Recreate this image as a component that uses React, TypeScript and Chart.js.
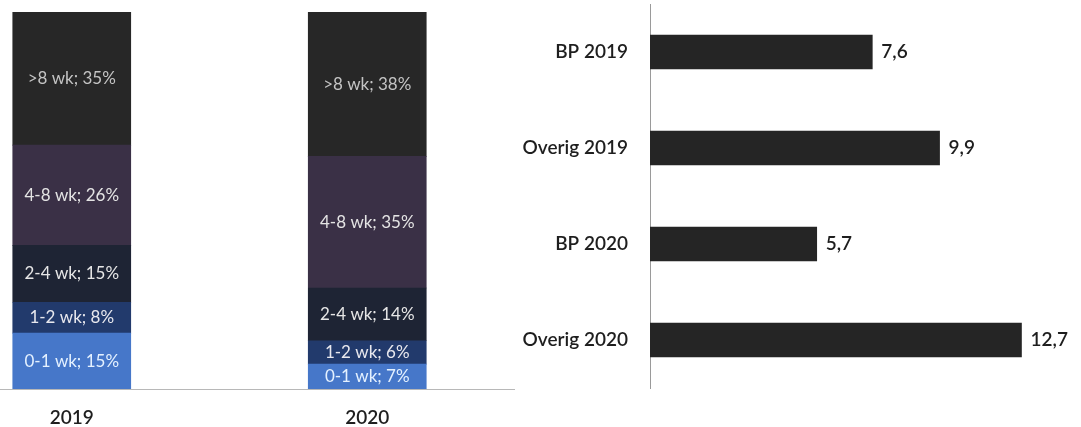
import React, { useEffect, useRef } from "react";
import { Chart, registerables } from "chart.js";

Chart.register(...registerables);

// Left chart: distribution of durations (share of cases, %)
const years = ["2019", "2020"];
const segmentNames = ["0-1 wk", "1-2 wk", "2-4 wk", "4-8 wk", ">8 wk"];
const shares2019 = [14.8, 8.2, 15.1, 26.6, 35.3];
const shares2020 = [6.6, 6.2, 14.0, 34.9, 38.3];
const printed2019 = [15, 8, 15, 26, 35];
const printed2020 = [7, 6, 14, 35, 38];
const segmentColors = ["#4677c9", "#223a6c", "#1e2434", "#3a3046", "#272727"];
const segmentTextColors = ["#e4f1ff", "#e8e8ee", "#e6e6e6", "#e4e4e4", "#c4c4c4"];

// Right chart: average duration (weeks)
const groups = ["BP 2019", "Overig 2019", "BP 2020", "Overig 2020"];
const durations = [7.6, 9.9, 5.7, 12.7];

const FONT = "Lato, 'Open Sans', sans-serif";

export default function App() {
  const leftRef = useRef<HTMLCanvasElement | null>(null);
  const rightRef = useRef<HTMLCanvasElement | null>(null);

  useEffect(() => {
    const printed = [printed2019, printed2020];
    const segLabelPlugin = {
      id: "segLabels",
      afterDatasetsDraw(chart: any) {
        const ctx = chart.ctx;
        ctx.save();
        ctx.font = `17px ${FONT}`;
        ctx.textAlign = "center";
        ctx.textBaseline = "middle";
        chart.data.datasets.forEach((ds: any, di: number) => {
          const meta = chart.getDatasetMeta(di);
          meta.data.forEach((el: any, i: number) => {
            const yMid = (el.y + el.base) / 2;
            ctx.fillStyle = segmentTextColors[di];
            ctx.fillText(`${segmentNames[di]}; ${printed[i][di]}%`, el.x, yMid);
          });
        });
        ctx.restore();
      },
    };

    const left = new Chart(leftRef.current!, {
      type: "bar",
      data: {
        labels: years,
        datasets: segmentNames.map((name, k) => ({
          label: name,
          data: [shares2019[k], shares2020[k]],
          backgroundColor: segmentColors[k],
          borderWidth: 0,
          barThickness: 118,
        })),
      },
      options: {
        responsive: false,
        animation: false,
        layout: { padding: { top: 12, left: 0, right: 0, bottom: 0 } },
        plugins: { legend: { display: false }, tooltip: { enabled: false } },
        scales: {
          x: {
            stacked: true,
            grid: { display: false, drawTicks: false },
            border: { display: true, color: "#b8b8b8", dash: [3, 3], width: 1 },
            ticks: { color: "#1e1e1e", font: { family: FONT, size: 19, weight: "600" }, padding: 17 },
            afterFit: (s: any) => { s.height = 38; },
          },
          y: {
            stacked: true,
            display: false,
            min: 0,
            max: 100,
          },
        },
      },
      plugins: [segLabelPlugin],
    });

    const valueLabelPlugin = {
      id: "valueLabels",
      afterDatasetsDraw(chart: any) {
        const ctx = chart.ctx;
        ctx.save();
        ctx.font = `600 19px ${FONT}`;
        ctx.fillStyle = "#1e1e1e";
        ctx.textAlign = "left";
        ctx.textBaseline = "middle";
        const meta = chart.getDatasetMeta(0);
        meta.data.forEach((el: any, i: number) => {
          const v = durations[i].toFixed(1).replace(".", ",");
          ctx.fillText(v, el.x + 9, el.y);
        });
        ctx.restore();
      },
    };

    const right = new Chart(rightRef.current!, {
      type: "bar",
      data: {
        labels: groups,
        datasets: [
          {
            label: "Doorlooptijd",
            data: durations,
            backgroundColor: "#252525",
            borderWidth: 0,
            barThickness: 34,
          },
        ],
      },
      options: {
        indexAxis: "y",
        responsive: false,
        animation: false,
        layout: { padding: { top: 4, right: 21.5, bottom: 39, left: 0 } },
        plugins: { legend: { display: false }, tooltip: { enabled: false } },
        scales: {
          x: { display: false, min: 0, max: 14 },
          y: {
            grid: { display: false, drawTicks: false },
            border: { display: true, color: "#9a9a9a", dash: [2, 2], width: 1 },
            ticks: { color: "#1e1e1e", font: { family: FONT, size: 19, weight: "600" }, padding: 22 },
            afterFit: (s: any) => {
              s.width = 130;
              s.paddingTop = 0;
              s.paddingBottom = 0;
            },
          },
        },
      },
      plugins: [valueLabelPlugin],
    });

    return () => {
      left.destroy();
      right.destroy();
    };
  }, []);

  return (
    <div
      style={{
        position: "fixed",
        left: 0,
        top: 0,
        width: 1081,
        height: 427,
        overflow: "hidden",
        background: "#ffffff",
      }}
    >
      <canvas
        ref={leftRef}
        width={591}
        height={427}
        style={{ position: "absolute", left: -76, top: 0, width: 591, height: 427 }}
      />
      <canvas
        ref={rightRef}
        width={561}
        height={427}
        style={{ position: "absolute", left: 520, top: 0, width: 561, height: 427 }}
      />
    </div>
  );
}
